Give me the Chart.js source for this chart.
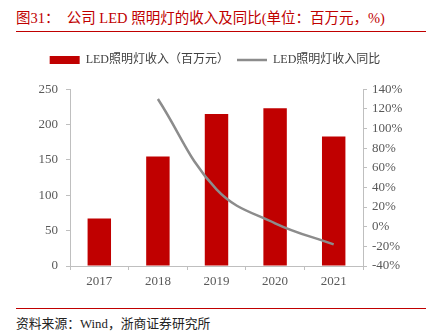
<!DOCTYPE html>
<html>
<head>
<meta charset="utf-8">
<script src="https://cdn.jsdelivr.net/npm/chart.js@4"></script>
<style>
  body { margin: 0; width: 430px; height: 336px; background: #fff; position: relative; overflow: hidden; }
  .title { position: absolute; left: 16px; top: 6px; font: 14.5px "Liberation Serif", "Noto Sans CJK SC"; color: #c00000; white-space: pre; }
  .rule { position: absolute; left: 16px; width: 410px; height: 1px; background: #c00000; }
  .source { position: absolute; left: 16px; top: 313px; font: 12.8px "Liberation Serif", "Noto Sans CJK SC"; color: #222; }
  .wrap { position: absolute; left: 0; top: 36px; width: 430px; height: 262px; }
</style>
</head>
<body>
<div class="title">图31：  公司 LED 照明灯的收入及同比(单位：百万元，%)</div>
<div class="rule" style="top:31px"></div>
<div class="wrap"><canvas id="ledChart"></canvas></div>
<div class="rule" style="top:308px"></div>
<div class="source">资料来源：Wind，浙商证券研究所</div>
<script>
const years = ["2017", "2018", "2019", "2020", "2021"];
const revenue = [67, 155, 215, 223, 183];      // 百万元
const yoyGrowth = [null, 130, 38, 3.5, -18];   // %

const serif = "'Liberation Serif', 'Noto Sans CJK SC'";
const tickColor = "#595959";
const axisColor = "#bfbfbf";

new Chart(document.getElementById("ledChart"), {
  data: {
    labels: years,
    datasets: [
      {
        type: "line",
        label: "LED照明灯收入同比",
        data: yoyGrowth,
        yAxisID: "y2",
        borderColor: "#8c8c8c",
        backgroundColor: "#8c8c8c",
        borderWidth: 2.5,
        pointRadius: 0,
        tension: 0.4,
        order: 0
      },
      {
        type: "bar",
        label: "LED照明灯收入（百万元）",
        data: revenue,
        yAxisID: "y",
        backgroundColor: "#c00000",
        categoryPercentage: 1,
        barPercentage: 0.4,
        order: 1
      }
    ]
  },
  options: {
    responsive: true,
    maintainAspectRatio: false,
    animation: false,
    layout: { padding: { top: 10, bottom: 0, left: 0, right: 0 } },
    plugins: {
      tooltip: { enabled: false },
      // empty subtitle sits between legend and plot as a spacer
      subtitle: { display: true, text: "", weight: 500, font: { size: 1 }, padding: { top: 0, bottom: 12 } },
      legend: {
        reverse: true,
        labels: {
          usePointStyle: true,
          pointStyleWidth: 30,
          boxHeight: 8,
          padding: 8,
          color: "#404040",
          font: { family: serif, size: 12 },
          generateLabels: (chart) => {
            const items = Chart.defaults.plugins.legend.labels.generateLabels(chart);
            items.forEach((it) => {
              const ds = chart.data.datasets[it.datasetIndex];
              it.pointStyle = ds.type === "line" ? "line" : "rect";
              it.lineWidth = ds.type === "line" ? 2.5 : 0;
            });
            return items;
          }
        }
      }
    },
    scales: {
      x: {
        offset: true,
        border: { color: axisColor },
        grid: { display: true, drawOnChartArea: false, offset: true, tickLength: 4, color: axisColor },
        ticks: { color: tickColor, font: { family: serif, size: 13 }, padding: 4 },
        afterFit: (s) => { s.height = 32; }
      },
      y: {
        position: "left",
        min: 0,
        max: 250,
        border: { color: axisColor },
        grid: { drawOnChartArea: false, tickLength: 4, color: axisColor },
        ticks: { stepSize: 50, color: tickColor, font: { family: serif, size: 13 }, padding: 8 },
        afterFit: (s) => { s.width = 70; }
      },
      y2: {
        position: "right",
        min: -40,
        max: 140,
        border: { color: axisColor },
        grid: { drawOnChartArea: false, tickLength: 4, color: axisColor },
        ticks: {
          stepSize: 20,
          color: tickColor,
          font: { family: serif, size: 13 },
          padding: 5,
          callback: (v) => v + "%"
        },
        afterFit: (s) => { s.width = 67; }
      }
    }
  }
});
</script>
</body>
</html>
